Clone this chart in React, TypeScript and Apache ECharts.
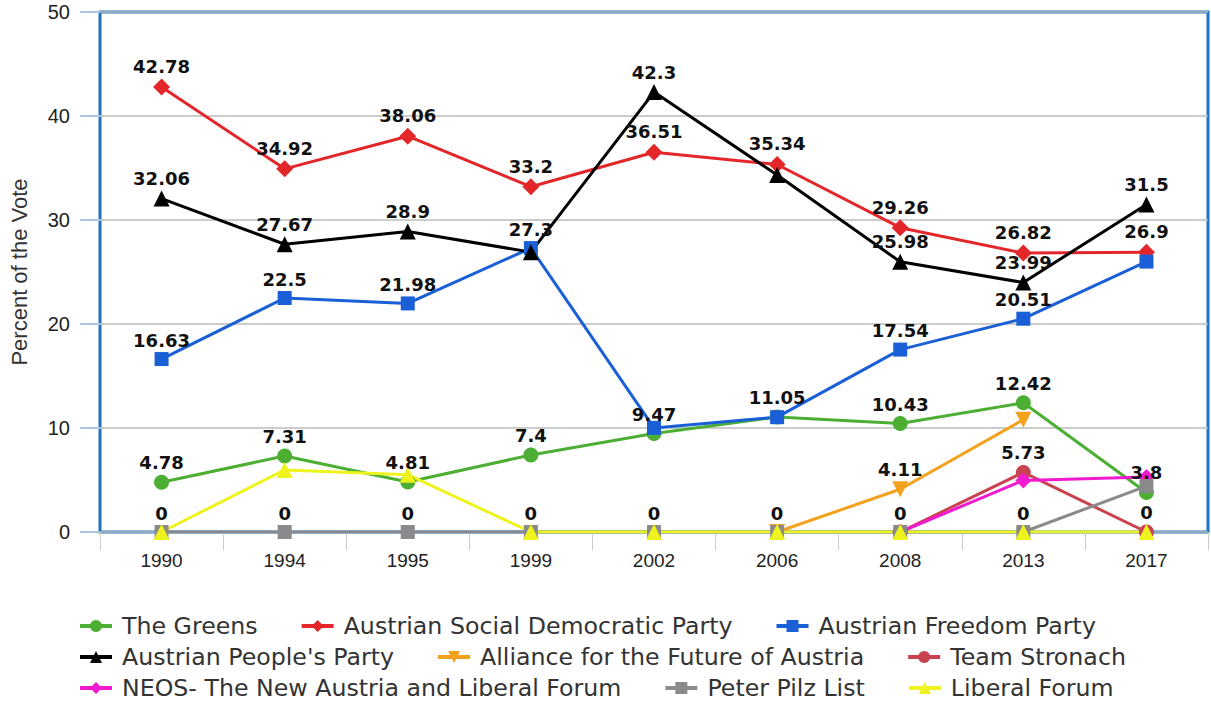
import React, { useEffect, useRef } from "react";
import * as echarts from "echarts";

const years = ["1990", "1994", "1995", "1999", "2002", "2006", "2008", "2013", "2017"];

const greens = [4.78, 7.31, 4.81, 7.4, 9.47, 11.05, 10.43, 12.42, 3.8];
const spo = [42.78, 34.92, 38.06, 33.2, 36.51, 35.34, 29.26, 26.82, 26.9];
const fpo = [16.63, 22.5, 21.98, 27.3, 10.01, 11.04, 17.54, 20.51, 26.0];
const ovp = [32.06, 27.67, 28.9, 26.91, 42.3, 34.33, 25.98, 23.99, 31.5];
const bzo = [null, null, null, null, null, 0, 4.11, 10.8, null];
const stronach = [null, null, null, null, null, null, 0, 5.73, 0];
const neos = [null, null, null, null, null, null, 0, 4.96, 5.3];
const pilz = [0, 0, 0, 0, 0, 0, 0, 0, 4.41];
const lif = [0, 5.97, 5.51, 0, 0, 0, 0, 0, 0];

const seriesDefs = [
  { name: "The Greens", data: greens, color: "#4caf34", symbol: "circle", size: 15, rotate: 0, hide: [] as number[] },
  { name: "Austrian Social Democratic Party", data: spo, color: "#e3262a", symbol: "diamond", size: 17, rotate: 0, hide: [] as number[] },
  { name: "Austrian Freedom Party", data: fpo, color: "#1a5fd6", symbol: "rect", size: 14, rotate: 0, hide: [4, 5, 8] },
  { name: "Austrian People's Party", data: ovp, color: "#000000", symbol: "triangle", size: 16, rotate: 0, hide: [3, 5] },
  { name: "Alliance for the Future of Austria", data: bzo, color: "#f4a11d", symbol: "triangle", size: 16, rotate: 180, hide: [5, 7] },
  { name: "Team Stronach", data: stronach, color: "#c9424f", symbol: "circle", size: 15, rotate: 0, hide: [6] },
  { name: "NEOS- The New Austria and Liberal Forum", data: neos, color: "#f21ad0", symbol: "diamond", size: 16, rotate: 0, hide: [6, 7, 8] },
  { name: "Peter Pilz List", data: pilz, color: "#8a8a8a", symbol: "rect", size: 14, rotate: 0, hide: [8] },
  { name: "Liberal Forum", data: lif, color: "#eef31e", symbol: "triangle", size: 16, rotate: 0, hide: [0, 1, 2, 3, 4, 5, 6, 7, 8] },
];

const legendRows = [
  ["The Greens", "Austrian Social Democratic Party", "Austrian Freedom Party"],
  ["Austrian People's Party", "Alliance for the Future of Austria", "Team Stronach"],
  ["NEOS- The New Austria and Liberal Forum", "Peter Pilz List", "Liberal Forum"],
];

export default function App() {
  const ref = useRef<HTMLDivElement>(null);
  useEffect(() => {
    if (!ref.current) return;
    const chart = echarts.init(ref.current, undefined, { renderer: "svg" });
    const series = seriesDefs.map((s) => ({
      name: s.name,
      type: "line",
      symbol: s.symbol,
      symbolSize: s.size,
      symbolRotate: s.rotate,
      showAllSymbol: true,
      connectNulls: false,
      itemStyle: { color: s.color },
      lineStyle: { color: s.color, width: 3 },
      label: {
        show: true,
        position: "top",
        distance: 3,
        fontFamily: "DejaVu Sans",
        fontWeight: "bold",
        fontSize: 18,
        color: "#111",
      },
      data: s.data.map((v, i) =>
        v === null
          ? null
          : s.hide.indexOf(i) >= 0
          ? { value: v, label: { show: false } }
          : { value: v }
      ),
      z: 2,
    }));
    chart.setOption({
      animation: false,
      backgroundColor: "#ffffff",
      grid: {
        left: 100,
        right: 3,
        top: 12,
        bottom: 172,
        show: true,
        borderColor: "#1e73be",
        borderWidth: 3,
        backgroundColor: "#ffffff",
        outerBoundsMode: "none",
        containLabel: false,
      },
      legend: legendRows.map((row, r) => ({
        data: row,
        left: 78,
        top: 614 + r * 31,
        padding: 0,
        itemWidth: 32,
        itemHeight: 15,
        itemGap: 42,
        lineStyle: { width: 4 },
        textStyle: {
          fontFamily: "DejaVu Sans",
          fontSize: 23.7,
          color: "#333",
          padding: [0, 0, 0, 5],
        },
      })),
      xAxis: {
        type: "category",
        data: years,
        boundaryGap: true,
        axisLine: { show: false },
        axisTick: { show: true, length: 18, lineStyle: { color: "#cccccc", width: 1 } },
        axisLabel: { margin: 19, fontFamily: "Liberation Sans", fontSize: 19, color: "#222" },
        splitLine: { show: false },
      },
      yAxis: {
        type: "value",
        min: 0,
        max: 50,
        interval: 10,
        name: "Percent of the Vote",
        nameLocation: "middle",
        nameGap: 70,
        nameTextStyle: { fontFamily: "Liberation Sans", fontSize: 22, color: "#333" },
        axisLine: { show: false },
        axisTick: { show: true, length: 20, lineStyle: { color: "#a9c5e2", width: 2 } },
        axisLabel: { margin: 30, fontFamily: "Liberation Sans", fontSize: 20, color: "#222" },
        splitLine: { show: true, lineStyle: { color: "#bbbbbb", width: 1.5 } },
      },
      series,
    });
    return () => chart.dispose();
  }, []);
  return (
    <div
      ref={ref}
      style={{ position: "absolute", left: 0, top: 0, width: 1211, height: 704 }}
    />
  );
}
